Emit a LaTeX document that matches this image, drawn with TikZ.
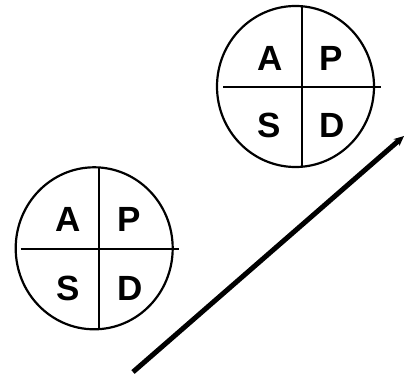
\documentclass[tikz,border=0pt]{standalone}
\usepackage{fontspec}
\setmainfont{Liberation Sans}
\usetikzlibrary{arrows.meta}

\begin{document}
\begin{tikzpicture}[
x=1pt, y=-1pt,
ring/.style={draw=black, line width=2.2pt},
cross/.style={draw=black, line width=2.2pt},
letter/.style={inner sep=0pt, font=\fontsize{35}{35}\selectfont\bfseries},
trend/.style={-{Stealth[length=10pt, width=9pt]}, line width=5pt}
]
\useasboundingbox (0,0) rectangle (404,377);

% upper cycle
\draw[ring] (295.5,86.5) ellipse [x radius=78.5, y radius=80.5];
\draw[cross] (302,6.3) -- (302,166.7);
\draw[cross] (223,87) -- (381,87);
\node[letter] (a2) at (270,58.3) {A};
\node[letter] (p2) at (330.7,58.3) {P};
\node[letter] (s2) at (269,125.5) {S};
\node[letter] (d2) at (331.7,125.5) {D};

% lower cycle
\draw[ring] (94.2,248.3) ellipse [x radius=78.5, y radius=81];
\draw[cross] (99.3,167.5) -- (99.3,329.2);
\draw[cross] (20.7,249.3) -- (179,249.3);
\node[letter] (a1) at (68.3,219) {A};
\node[letter] (p1) at (128.8,219) {P};
\node[letter] (s1) at (68.3,288.7) {S};
\node[letter] (d1) at (130,288.7) {D};

% improvement
\coordinate (low) at (133,372);
\coordinate (high) at (404,136);
\draw[trend] (low) -- (high);
\end{tikzpicture}
\end{document}
